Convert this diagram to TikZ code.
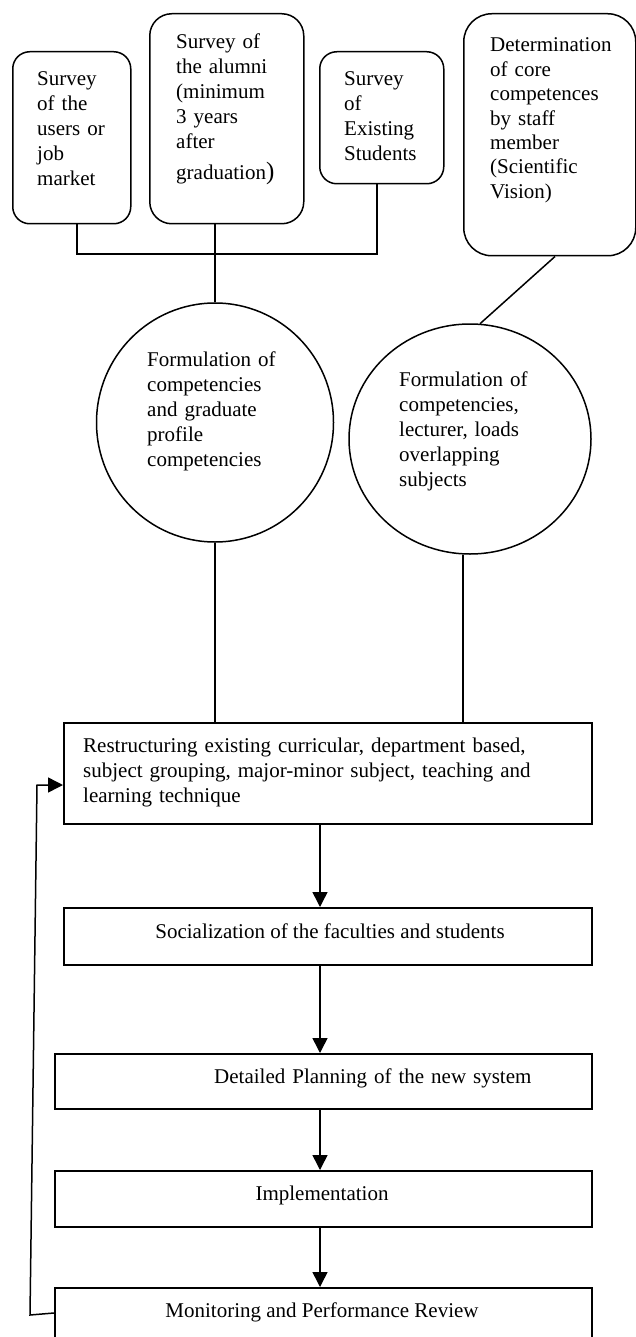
\documentclass[tikz,border=0pt]{standalone}
\usepackage{fontspec}
\setmainfont{Liberation Serif}
\usetikzlibrary{arrows.meta,shapes.geometric}

\tikzset{
  x=1pt, y=-1pt,
  line/.style={line width=1.5pt, draw=black},
  arr/.style={line, -{Triangle[length=15pt,width=15pt]}},
  rbox/.style={line, rectangle, rounded corners=#1, inner sep=0pt, anchor=north west},
  sbox/.style={line, rectangle, inner sep=0pt, anchor=north west},
  oval/.style={line, ellipse, inner sep=0pt},
  txt/.style={inner sep=0pt, align=left, text width=#1, anchor=base west,
              font=\fontsize{21}{25}\selectfont},
  ctxt/.style={inner sep=0pt, anchor=base, font=\fontsize{21}{25}\selectfont},
}

\begin{document}
\begin{tikzpicture}
\clip (0,0) rectangle (636,1337);
\fill[white] (0,0) rectangle (636,1337);

% survey boxes
\node[rbox=17pt, minimum width=118pt, minimum height=172pt] (s1) at (12,51) {};
\node[rbox=22pt, minimum width=154pt, minimum height=210pt] (s2) at (149,13) {};
\node[rbox=17pt, minimum width=124pt, minimum height=132pt] (s3) at (319,51) {};
\node[rbox=28pt, minimum width=172pt, minimum height=242pt] (s4) at (463,13) {};

\node[txt=110pt] (s1t) at (37,86) {Survey\\of the\\users or\\job\\market};
\node[txt=140pt] (s2t) at (176,49) {Survey of\\the alumni\\(minimum\\3 years\\after\\[6pt]graduation{\fontsize{25}{25}\selectfont)}};
\node[txt=110pt] (s3t) at (344,86) {Survey\\of\\Existing\\Students};
\node[txt=150pt, font=\fontsize{21}{24.4}\selectfont] (s4t) at (490,52) {Determination\\of core\\competences\\by staff\\member\\(Scientific\\Vision)};

% competence ovals
\node[oval, minimum width=237pt, minimum height=239pt] (c1) at (215,422.5) {};
\node[oval, minimum width=242pt, minimum height=230pt] (c2) at (470,439) {};

\node[txt=160pt] (c1t) at (147,366) {Formulation of\\competencies\\and graduate\\profile\\competencies};
\node[txt=160pt] (c2t) at (399,386) {Formulation of\\competencies,\\lecturer, loads\\overlapping\\subjects};

% process boxes
\node[sbox, minimum width=528pt, minimum height=101pt] (restr) at (63,722) {};
\node[sbox, minimum width=528pt, minimum height=57pt] (soc) at (63,907) {};
\node[sbox, minimum width=537pt, minimum height=55pt] (plan) at (54,1053) {};
\node[sbox, minimum width=537pt, minimum height=56pt] (impl) at (54,1170) {};
\node[sbox, minimum width=537pt, minimum height=70pt] (mon) at (54,1287) {};

\node[txt=520pt] (restrt) at (83,752) {Restructuring existing curricular, department based,\\subject grouping, major-minor subject, teaching and\\learning technique};
\node[ctxt] (soct) at (330,938) {Socialization of the faculties and students};
\node[txt=400pt] (plant) at (214,1083) {Detailed Planning of the new system};
\node[ctxt] (implt) at (322,1200) {Implementation};
\node[ctxt] (mont) at (322,1317) {Monitoring and Performance Review};

% joints of the connectors
\coordinate (j1) at (77,254);
\coordinate (j3) at (377,254);
\coordinate (k2) at (463,0);
\coordinate (k4) at (555,0);
\coordinate (ax) at (320,0);
\coordinate (fbA) at (54,1313);
\coordinate (fbB) at (30,1315);
\coordinate (fbC) at (37,785);

% connectors
\draw[line] (s1.south -| j1) -- (j1) -- (j3) -- (s3.south -| j3);
\draw[line] (s2.south -| c1.north) -- (c1.north);
\draw[line] (s4.south -| k4) -- (c2.85);
\draw[line] (c1.south) -- (c1.south |- restr.north);
\draw[line] (c2.south -| k2) -- (restr.north -| k2);

\draw[arr] (restr.south -| ax) -- (soc.north -| ax);
\draw[arr] (soc.south -| ax) -- (plan.north -| ax);
\draw[arr] (plan.south -| ax) -- (impl.north -| ax);
\draw[arr] (impl.south -| ax) -- (mon.north -| ax);

% feedback loop
\draw[arr] (fbA) -- (fbB) -- (fbC) -- (restr.west |- fbC);
\end{tikzpicture}
\end{document}
